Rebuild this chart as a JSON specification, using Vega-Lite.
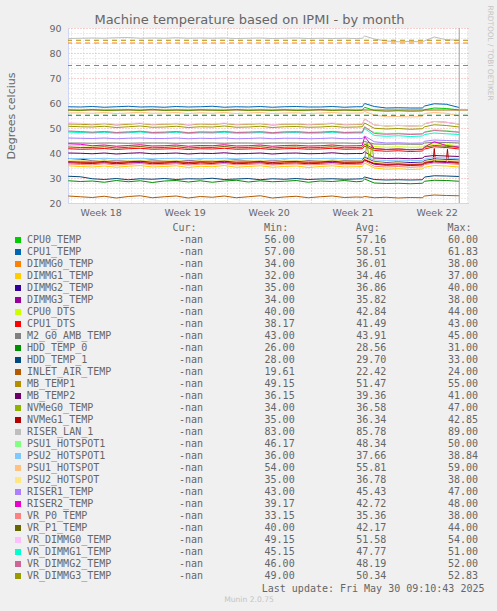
{
"$schema":"https://vega.github.io/schema/vega-lite/v6.json",
"background":"#f0f0f0",
"padding":{"left":5,"top":5,"right":5,"bottom":7},
"title":{"text":"Machine temperature based on IPMI - by month","anchor":"middle","frame":"bounds","font":"DejaVu Sans","fontSize":13,"fontWeight":"normal","color":"#666666","offset":-22},
"config":{"view":{"stroke":null},"font":"DejaVu Sans"},
"spacing":5,
"datasets":{
"legend":[
{"s":1,"name":"CPU0_TEMP","cur":"-nan","min":"56.00","avg":"57.16","max":"60.00"},
{"s":2,"name":"CPU1_TEMP","cur":"-nan","min":"57.00","avg":"58.51","max":"61.83"},
{"s":3,"name":"DIMMG0_TEMP","cur":"-nan","min":"34.00","avg":"36.01","max":"38.00"},
{"s":4,"name":"DIMMG1_TEMP","cur":"-nan","min":"32.00","avg":"34.46","max":"37.00"},
{"s":5,"name":"DIMMG2_TEMP","cur":"-nan","min":"35.00","avg":"36.86","max":"40.00"},
{"s":6,"name":"DIMMG3_TEMP","cur":"-nan","min":"34.00","avg":"35.82","max":"38.00"},
{"s":7,"name":"CPU0_DTS","cur":"-nan","min":"40.00","avg":"42.84","max":"44.00"},
{"s":8,"name":"CPU1_DTS","cur":"-nan","min":"38.17","avg":"41.49","max":"43.00"},
{"s":9,"name":"M2_G0_AMB_TEMP","cur":"-nan","min":"43.00","avg":"43.91","max":"45.00"},
{"s":10,"name":"HDD_TEMP_0","cur":"-nan","min":"26.00","avg":"28.56","max":"31.00"},
{"s":11,"name":"HDD_TEMP_1","cur":"-nan","min":"28.00","avg":"29.70","max":"33.00"},
{"s":12,"name":"INLET_AIR_TEMP","cur":"-nan","min":"19.61","avg":"22.42","max":"24.00"},
{"s":13,"name":"MB_TEMP1","cur":"-nan","min":"49.15","avg":"51.47","max":"55.00"},
{"s":14,"name":"MB_TEMP2","cur":"-nan","min":"36.15","avg":"39.36","max":"41.00"},
{"s":15,"name":"NVMeG0_TEMP","cur":"-nan","min":"34.00","avg":"36.58","max":"47.00"},
{"s":16,"name":"NVMeG1_TEMP","cur":"-nan","min":"35.00","avg":"36.34","max":"42.85"},
{"s":17,"name":"RISER_LAN_1","cur":"-nan","min":"83.00","avg":"85.78","max":"89.00"},
{"s":18,"name":"PSU1_HOTSPOT1","cur":"-nan","min":"46.17","avg":"48.34","max":"50.00"},
{"s":19,"name":"PSU2_HOTSPOT1","cur":"-nan","min":"36.00","avg":"37.66","max":"38.84"},
{"s":20,"name":"PSU1_HOTSPOT","cur":"-nan","min":"54.00","avg":"55.81","max":"59.00"},
{"s":21,"name":"PSU2_HOTSPOT","cur":"-nan","min":"35.00","avg":"36.78","max":"38.00"},
{"s":22,"name":"RISER1_TEMP","cur":"-nan","min":"43.00","avg":"45.43","max":"47.00"},
{"s":23,"name":"RISER2_TEMP","cur":"-nan","min":"39.17","avg":"42.72","max":"48.00"},
{"s":24,"name":"VR_P0_TEMP","cur":"-nan","min":"33.15","avg":"35.36","max":"38.00"},
{"s":25,"name":"VR_P1_TEMP","cur":"-nan","min":"40.00","avg":"42.17","max":"44.00"},
{"s":26,"name":"VR_DIMMG0_TEMP","cur":"-nan","min":"49.15","avg":"51.58","max":"54.00"},
{"s":27,"name":"VR_DIMMG1_TEMP","cur":"-nan","min":"45.15","avg":"47.77","max":"51.00"},
{"s":28,"name":"VR_DIMMG2_TEMP","cur":"-nan","min":"46.00","avg":"48.19","max":"52.00"},
{"s":29,"name":"VR_DIMMG3_TEMP","cur":"-nan","min":"49.00","avg":"50.34","max":"52.83"}
],
"temps":[
{"s":1,"d":0.8,"v":57.2},{"s":1,"d":1.8,"v":57},{"s":1,"d":2.8,"v":57.4},{"s":1,"d":3.8,"v":57},{"s":1,"d":4.8,"v":57.1},{"s":1,"d":5.8,"v":57.3},{"s":1,"d":6.8,"v":57},{"s":1,"d":7.8,"v":57.5},{"s":1,"d":8.8,"v":57},{"s":1,"d":9.8,"v":57.2},{"s":1,"d":10.8,"v":57},{"s":1,"d":11.8,"v":57.3},{"s":1,"d":12.8,"v":57.1},{"s":1,"d":13.8,"v":57},{"s":1,"d":14.8,"v":57.4},{"s":1,"d":15.8,"v":57},{"s":1,"d":16.8,"v":57.2},{"s":1,"d":17.8,"v":57},{"s":1,"d":18.8,"v":57.3},{"s":1,"d":19.8,"v":57},{"s":1,"d":20.8,"v":57.1},{"s":1,"d":21.8,"v":57.4},{"s":1,"d":22.8,"v":57},{"s":1,"d":23.8,"v":57.2},{"s":1,"d":24.8,"v":57},{"s":1,"d":25.3,"v":57.1},{"s":1,"d":25.5,"v":58.3},{"s":1,"d":26.3,"v":57},{"s":1,"d":27.3,"v":56.7},{"s":1,"d":28.3,"v":56.9},{"s":1,"d":29.3,"v":56.7},{"s":1,"d":30.3,"v":56.8},{"s":1,"d":30.5,"v":57.3},{"s":1,"d":31.3,"v":58},{"s":1,"d":32.3,"v":57.8},{"s":1,"d":33.38,"v":57.2},
{"s":2,"d":0.8,"v":58.5},{"s":2,"d":1.8,"v":58.4},{"s":2,"d":2.8,"v":58.6},{"s":2,"d":3.8,"v":58.3},{"s":2,"d":4.8,"v":58.5},{"s":2,"d":5.8,"v":58.7},{"s":2,"d":6.8,"v":58.4},{"s":2,"d":7.8,"v":58.5},{"s":2,"d":8.8,"v":58.3},{"s":2,"d":9.8,"v":58.6},{"s":2,"d":10.8,"v":58.4},{"s":2,"d":11.8,"v":58.5},{"s":2,"d":12.8,"v":58.7},{"s":2,"d":13.8,"v":58.3},{"s":2,"d":14.8,"v":58.5},{"s":2,"d":15.8,"v":58.4},{"s":2,"d":16.8,"v":58.6},{"s":2,"d":17.8,"v":58.3},{"s":2,"d":18.8,"v":58.5},{"s":2,"d":19.8,"v":58.6},{"s":2,"d":20.8,"v":58.4},{"s":2,"d":21.8,"v":58.4},{"s":2,"d":22.8,"v":58.6},{"s":2,"d":23.8,"v":58.3},{"s":2,"d":24.8,"v":58.5},{"s":2,"d":25.3,"v":58.5},{"s":2,"d":25.5,"v":59.8},{"s":2,"d":26.3,"v":58.6},{"s":2,"d":27.3,"v":58},{"s":2,"d":28.3,"v":58.1},{"s":2,"d":29.3,"v":58},{"s":2,"d":30.3,"v":58},{"s":2,"d":30.5,"v":58.8},{"s":2,"d":31.3,"v":59.7},{"s":2,"d":32.3,"v":59.5},{"s":2,"d":33.38,"v":58.2},
{"s":3,"d":0.8,"v":36.5},{"s":3,"d":1.8,"v":36.2},{"s":3,"d":2.8,"v":36},{"s":3,"d":3.8,"v":36.4},{"s":3,"d":4.8,"v":35.8},{"s":3,"d":5.8,"v":36.2},{"s":3,"d":6.8,"v":36.5},{"s":3,"d":7.8,"v":35.9},{"s":3,"d":8.8,"v":36.1},{"s":3,"d":9.8,"v":36.4},{"s":3,"d":10.8,"v":35.8},{"s":3,"d":11.8,"v":36.3},{"s":3,"d":12.8,"v":36},{"s":3,"d":13.8,"v":36.5},{"s":3,"d":14.8,"v":35.9},{"s":3,"d":15.8,"v":36.2},{"s":3,"d":16.8,"v":36.4},{"s":3,"d":17.8,"v":35.8},{"s":3,"d":18.8,"v":36.1},{"s":3,"d":19.8,"v":36.3},{"s":3,"d":20.8,"v":35.9},{"s":3,"d":21.8,"v":36.2},{"s":3,"d":22.8,"v":36.5},{"s":3,"d":23.8,"v":36},{"s":3,"d":24.8,"v":36.1},{"s":3,"d":25.3,"v":36.2},{"s":3,"d":25.5,"v":37.6},{"s":3,"d":26.3,"v":35.8},{"s":3,"d":27.3,"v":35.3},{"s":3,"d":28.3,"v":35.5},{"s":3,"d":29.3,"v":35.2},{"s":3,"d":30.3,"v":35.4},{"s":3,"d":30.5,"v":36},{"s":3,"d":31.3,"v":36.8},{"s":3,"d":32.3,"v":36.6},{"s":3,"d":33.38,"v":36.1},
{"s":4,"d":0.8,"v":34.9},{"s":4,"d":1.8,"v":34.6},{"s":4,"d":2.8,"v":34.4},{"s":4,"d":3.8,"v":34.8},{"s":4,"d":4.8,"v":34.3},{"s":4,"d":5.8,"v":34.7},{"s":4,"d":6.8,"v":35},{"s":4,"d":7.8,"v":34.4},{"s":4,"d":8.8,"v":34.6},{"s":4,"d":9.8,"v":34.9},{"s":4,"d":10.8,"v":34.2},{"s":4,"d":11.8,"v":34.7},{"s":4,"d":12.8,"v":34.5},{"s":4,"d":13.8,"v":35},{"s":4,"d":14.8,"v":34.3},{"s":4,"d":15.8,"v":34.6},{"s":4,"d":16.8,"v":34.9},{"s":4,"d":17.8,"v":34.3},{"s":4,"d":18.8,"v":34.6},{"s":4,"d":19.8,"v":34.8},{"s":4,"d":20.8,"v":34.2},{"s":4,"d":21.8,"v":34.6},{"s":4,"d":22.8,"v":34.9},{"s":4,"d":23.8,"v":34.4},{"s":4,"d":24.8,"v":34.5},{"s":4,"d":25.3,"v":34.6},{"s":4,"d":25.5,"v":36},{"s":4,"d":26.3,"v":34},{"s":4,"d":27.3,"v":33.5},{"s":4,"d":28.3,"v":33.7},{"s":4,"d":29.3,"v":33.4},{"s":4,"d":30.3,"v":33.6},{"s":4,"d":30.5,"v":34.3},{"s":4,"d":31.3,"v":35},{"s":4,"d":32.3,"v":34.8},{"s":4,"d":33.38,"v":34.4},
{"s":5,"d":0.8,"v":37.8},{"s":5,"d":1.8,"v":37.6},{"s":5,"d":2.8,"v":36.9},{"s":5,"d":3.8,"v":37.1},{"s":5,"d":4.8,"v":36.8},{"s":5,"d":5.8,"v":37},{"s":5,"d":6.8,"v":36.9},{"s":5,"d":7.8,"v":37.2},{"s":5,"d":8.8,"v":36.8},{"s":5,"d":9.8,"v":37},{"s":5,"d":10.8,"v":36.9},{"s":5,"d":11.8,"v":37.1},{"s":5,"d":12.8,"v":36.8},{"s":5,"d":13.8,"v":37},{"s":5,"d":14.8,"v":37.2},{"s":5,"d":15.8,"v":36.9},{"s":5,"d":16.8,"v":37},{"s":5,"d":17.8,"v":36.8},{"s":5,"d":18.8,"v":37.1},{"s":5,"d":19.8,"v":36.9},{"s":5,"d":20.8,"v":37},{"s":5,"d":21.8,"v":36.8},{"s":5,"d":22.8,"v":37.1},{"s":5,"d":23.8,"v":36.9},{"s":5,"d":24.8,"v":37},{"s":5,"d":25.3,"v":37},{"s":5,"d":25.5,"v":38.4},{"s":5,"d":26.3,"v":36.5},{"s":5,"d":27.3,"v":36.2},{"s":5,"d":28.3,"v":36.4},{"s":5,"d":29.3,"v":36.2},{"s":5,"d":30.3,"v":36.3},{"s":5,"d":30.5,"v":37},{"s":5,"d":31.3,"v":37.6},{"s":5,"d":32.3,"v":37.4},{"s":5,"d":33.38,"v":37.2},
{"s":6,"d":0.8,"v":36.1},{"s":6,"d":1.8,"v":35.9},{"s":6,"d":2.8,"v":35.8},{"s":6,"d":3.8,"v":36.1},{"s":6,"d":4.8,"v":35.7},{"s":6,"d":5.8,"v":36},{"s":6,"d":6.8,"v":36.2},{"s":6,"d":7.8,"v":35.7},{"s":6,"d":8.8,"v":35.9},{"s":6,"d":9.8,"v":36.1},{"s":6,"d":10.8,"v":35.6},{"s":6,"d":11.8,"v":36},{"s":6,"d":12.8,"v":35.8},{"s":6,"d":13.8,"v":36.2},{"s":6,"d":14.8,"v":35.7},{"s":6,"d":15.8,"v":35.9},{"s":6,"d":16.8,"v":36.1},{"s":6,"d":17.8,"v":35.6},{"s":6,"d":18.8,"v":35.9},{"s":6,"d":19.8,"v":36},{"s":6,"d":20.8,"v":35.7},{"s":6,"d":21.8,"v":35.9},{"s":6,"d":22.8,"v":36.2},{"s":6,"d":23.8,"v":35.8},{"s":6,"d":24.8,"v":35.9},{"s":6,"d":25.3,"v":36},{"s":6,"d":25.5,"v":37.1},{"s":6,"d":26.3,"v":35.5},{"s":6,"d":27.3,"v":35.1},{"s":6,"d":28.3,"v":35.3},{"s":6,"d":29.3,"v":35},{"s":6,"d":30.3,"v":35.2},{"s":6,"d":30.5,"v":35.8},{"s":6,"d":31.3,"v":36.4},{"s":6,"d":32.3,"v":36.2},{"s":6,"d":33.38,"v":35.9},
{"s":7,"d":0.8,"v":43},{"s":7,"d":1.8,"v":42.9},{"s":7,"d":2.8,"v":42.8},{"s":7,"d":3.8,"v":43.1},{"s":7,"d":4.8,"v":42.7},{"s":7,"d":5.8,"v":43},{"s":7,"d":6.8,"v":43.2},{"s":7,"d":7.8,"v":42.8},{"s":7,"d":8.8,"v":42.9},{"s":7,"d":9.8,"v":43.1},{"s":7,"d":10.8,"v":42.7},{"s":7,"d":11.8,"v":43},{"s":7,"d":12.8,"v":42.9},{"s":7,"d":13.8,"v":43.2},{"s":7,"d":14.8,"v":42.8},{"s":7,"d":15.8,"v":42.9},{"s":7,"d":16.8,"v":43.1},{"s":7,"d":17.8,"v":42.7},{"s":7,"d":18.8,"v":43},{"s":7,"d":19.8,"v":43.1},{"s":7,"d":20.8,"v":42.8},{"s":7,"d":21.8,"v":42.9},{"s":7,"d":22.8,"v":43.2},{"s":7,"d":23.8,"v":42.8},{"s":7,"d":24.8,"v":42.9},{"s":7,"d":25.3,"v":43},{"s":7,"d":25.5,"v":44},{"s":7,"d":26.3,"v":42.6},{"s":7,"d":27.3,"v":42.3},{"s":7,"d":28.3,"v":42.5},{"s":7,"d":29.3,"v":42.3},{"s":7,"d":30.3,"v":42.4},{"s":7,"d":30.5,"v":43},{"s":7,"d":31.3,"v":43.6},{"s":7,"d":32.3,"v":43.4},{"s":7,"d":33.38,"v":42.9},
{"s":8,"d":0.8,"v":41.7},{"s":8,"d":1.8,"v":41.5},{"s":8,"d":2.8,"v":41.6},{"s":8,"d":3.8,"v":41.8},{"s":8,"d":4.8,"v":41.4},{"s":8,"d":5.8,"v":41.7},{"s":8,"d":6.8,"v":41.9},{"s":8,"d":7.8,"v":41.5},{"s":8,"d":8.8,"v":41.6},{"s":8,"d":9.8,"v":41.8},{"s":8,"d":10.8,"v":41.4},{"s":8,"d":11.8,"v":41.7},{"s":8,"d":12.8,"v":41.6},{"s":8,"d":13.8,"v":41.9},{"s":8,"d":14.8,"v":41.5},{"s":8,"d":15.8,"v":41.6},{"s":8,"d":16.8,"v":41.8},{"s":8,"d":17.8,"v":41.4},{"s":8,"d":18.8,"v":41.7},{"s":8,"d":19.8,"v":41.8},{"s":8,"d":20.8,"v":41.5},{"s":8,"d":21.8,"v":41.6},{"s":8,"d":22.8,"v":41.9},{"s":8,"d":23.8,"v":41.5},{"s":8,"d":24.8,"v":41.6},{"s":8,"d":25.3,"v":41.7},{"s":8,"d":25.5,"v":42.8},{"s":8,"d":26.3,"v":41},{"s":8,"d":27.3,"v":40.7},{"s":8,"d":28.3,"v":40.9},{"s":8,"d":29.3,"v":40.6},{"s":8,"d":30.3,"v":40.8},{"s":8,"d":30.5,"v":41.6},{"s":8,"d":31.3,"v":42.5},{"s":8,"d":32.3,"v":42.2},{"s":8,"d":33.38,"v":41.6},
{"s":9,"d":0.8,"v":44},{"s":9,"d":1.8,"v":44},{"s":9,"d":2.8,"v":43.9},{"s":9,"d":3.8,"v":44},{"s":9,"d":4.8,"v":44},{"s":9,"d":5.8,"v":43.9},{"s":9,"d":6.8,"v":44},{"s":9,"d":7.8,"v":44},{"s":9,"d":8.8,"v":44},{"s":9,"d":9.8,"v":43.9},{"s":9,"d":10.8,"v":44},{"s":9,"d":11.8,"v":44},{"s":9,"d":12.8,"v":44},{"s":9,"d":13.8,"v":43.9},{"s":9,"d":14.8,"v":44},{"s":9,"d":15.8,"v":44},{"s":9,"d":16.8,"v":43.9},{"s":9,"d":17.8,"v":44},{"s":9,"d":18.8,"v":44},{"s":9,"d":19.8,"v":44},{"s":9,"d":20.8,"v":43.9},{"s":9,"d":21.8,"v":44},{"s":9,"d":22.8,"v":44},{"s":9,"d":23.8,"v":44},{"s":9,"d":24.8,"v":43.9},{"s":9,"d":25.3,"v":44},{"s":9,"d":25.5,"v":44.6},{"s":9,"d":26.3,"v":43.6},{"s":9,"d":27.3,"v":43.5},{"s":9,"d":28.3,"v":43.6},{"s":9,"d":29.3,"v":43.5},{"s":9,"d":30.3,"v":43.5},{"s":9,"d":30.5,"v":44},{"s":9,"d":31.3,"v":44.3},{"s":9,"d":32.3,"v":44.2},{"s":9,"d":33.38,"v":44},
{"s":10,"d":0.8,"v":28.9},{"s":10,"d":1.8,"v":28.6},{"s":10,"d":2.8,"v":28.8},{"s":10,"d":3.8,"v":28.3},{"s":10,"d":4.8,"v":29},{"s":10,"d":5.8,"v":28.5},{"s":10,"d":6.8,"v":28.9},{"s":10,"d":7.8,"v":28.2},{"s":10,"d":8.8,"v":28.8},{"s":10,"d":9.8,"v":29},{"s":10,"d":10.8,"v":28.4},{"s":10,"d":11.8,"v":28.9},{"s":10,"d":12.8,"v":28.3},{"s":10,"d":13.8,"v":28.8},{"s":10,"d":14.8,"v":29.1},{"s":10,"d":15.8,"v":28.4},{"s":10,"d":16.8,"v":28.9},{"s":10,"d":17.8,"v":28.5},{"s":10,"d":18.8,"v":28.7},{"s":10,"d":19.8,"v":29},{"s":10,"d":20.8,"v":28.3},{"s":10,"d":21.8,"v":28.8},{"s":10,"d":22.8,"v":28.6},{"s":10,"d":23.8,"v":29},{"s":10,"d":24.8,"v":28.5},{"s":10,"d":25.3,"v":28.7},{"s":10,"d":25.5,"v":29.6},{"s":10,"d":26.3,"v":28},{"s":10,"d":27.3,"v":27.8},{"s":10,"d":28.3,"v":27.9},{"s":10,"d":29.3,"v":27.7},{"s":10,"d":30.3,"v":27.9},{"s":10,"d":30.5,"v":28.7},{"s":10,"d":31.3,"v":29.1},{"s":10,"d":32.3,"v":29},{"s":10,"d":33.38,"v":28.7},
{"s":11,"d":0.8,"v":30.7},{"s":11,"d":1.8,"v":30.5},{"s":11,"d":2.8,"v":29.7},{"s":11,"d":3.8,"v":29.4},{"s":11,"d":4.8,"v":29.8},{"s":11,"d":5.8,"v":29.3},{"s":11,"d":6.8,"v":29.7},{"s":11,"d":7.8,"v":29.5},{"s":11,"d":8.8,"v":29.8},{"s":11,"d":9.8,"v":29.4},{"s":11,"d":10.8,"v":29.7},{"s":11,"d":11.8,"v":29.6},{"s":11,"d":12.8,"v":29.9},{"s":11,"d":13.8,"v":29.4},{"s":11,"d":14.8,"v":29.6},{"s":11,"d":15.8,"v":29.8},{"s":11,"d":16.8,"v":29.3},{"s":11,"d":17.8,"v":29.7},{"s":11,"d":18.8,"v":29.5},{"s":11,"d":19.8,"v":29.8},{"s":11,"d":20.8,"v":29.4},{"s":11,"d":21.8,"v":29.6},{"s":11,"d":22.8,"v":29.7},{"s":11,"d":23.8,"v":29.5},{"s":11,"d":24.8,"v":29.6},{"s":11,"d":25.3,"v":29.7},{"s":11,"d":25.5,"v":30.4},{"s":11,"d":26.3,"v":29.4},{"s":11,"d":27.3,"v":29.2},{"s":11,"d":28.3,"v":29.3},{"s":11,"d":29.3,"v":29.2},{"s":11,"d":30.3,"v":29.3},{"s":11,"d":30.5,"v":30.4},{"s":11,"d":31.3,"v":30.9},{"s":11,"d":32.3,"v":30.8},{"s":11,"d":33.38,"v":30.6},
{"s":12,"d":0.8,"v":22.8},{"s":12,"d":1.8,"v":22.5},{"s":12,"d":2.8,"v":22.2},{"s":12,"d":3.8,"v":22.7},{"s":12,"d":4.8,"v":22},{"s":12,"d":5.8,"v":22.6},{"s":12,"d":6.8,"v":22.9},{"s":12,"d":7.8,"v":22.1},{"s":12,"d":8.8,"v":22.5},{"s":12,"d":9.8,"v":22.8},{"s":12,"d":10.8,"v":22},{"s":12,"d":11.8,"v":22.6},{"s":12,"d":12.8,"v":22.3},{"s":12,"d":13.8,"v":22.8},{"s":12,"d":14.8,"v":22.1},{"s":12,"d":15.8,"v":22.5},{"s":12,"d":16.8,"v":22.9},{"s":12,"d":17.8,"v":22},{"s":12,"d":18.8,"v":22.4},{"s":12,"d":19.8,"v":22.7},{"s":12,"d":20.8,"v":22.1},{"s":12,"d":21.8,"v":22.5},{"s":12,"d":22.8,"v":22.8},{"s":12,"d":23.8,"v":22.2},{"s":12,"d":24.8,"v":22.4},{"s":12,"d":25.3,"v":22.3},{"s":12,"d":25.5,"v":22.6},{"s":12,"d":26.3,"v":22.1},{"s":12,"d":27.3,"v":22.3},{"s":12,"d":28.3,"v":22},{"s":12,"d":29.3,"v":22.2},{"s":12,"d":30.3,"v":22.1},{"s":12,"d":30.5,"v":22.8},{"s":12,"d":31.3,"v":23.2},{"s":12,"d":32.3,"v":23},{"s":12,"d":33.38,"v":22.9},
{"s":13,"d":0.8,"v":51.6},{"s":13,"d":1.8,"v":51.5},{"s":13,"d":2.8,"v":51.3},{"s":13,"d":3.8,"v":51.7},{"s":13,"d":4.8,"v":51.2},{"s":13,"d":5.8,"v":51.5},{"s":13,"d":6.8,"v":51.8},{"s":13,"d":7.8,"v":51.3},{"s":13,"d":8.8,"v":51.5},{"s":13,"d":9.8,"v":51.7},{"s":13,"d":10.8,"v":51.2},{"s":13,"d":11.8,"v":51.6},{"s":13,"d":12.8,"v":51.4},{"s":13,"d":13.8,"v":51.8},{"s":13,"d":14.8,"v":51.3},{"s":13,"d":15.8,"v":51.5},{"s":13,"d":16.8,"v":51.7},{"s":13,"d":17.8,"v":51.2},{"s":13,"d":18.8,"v":51.5},{"s":13,"d":19.8,"v":51.6},{"s":13,"d":20.8,"v":51.3},{"s":13,"d":21.8,"v":51.5},{"s":13,"d":22.8,"v":51.8},{"s":13,"d":23.8,"v":51.3},{"s":13,"d":24.8,"v":51.4},{"s":13,"d":25.3,"v":51.5},{"s":13,"d":25.5,"v":53.6},{"s":13,"d":26.3,"v":51.2},{"s":13,"d":27.3,"v":50.8},{"s":13,"d":28.3,"v":51},{"s":13,"d":29.3,"v":50.8},{"s":13,"d":30.3,"v":50.9},{"s":13,"d":30.5,"v":51.7},{"s":13,"d":31.3,"v":52.6},{"s":13,"d":32.3,"v":52.3},{"s":13,"d":33.38,"v":51.5},
{"s":14,"d":0.8,"v":40},{"s":14,"d":1.8,"v":39.9},{"s":14,"d":2.8,"v":39.7},{"s":14,"d":3.8,"v":40},{"s":14,"d":4.8,"v":39.6},{"s":14,"d":5.8,"v":39.9},{"s":14,"d":6.8,"v":40.1},{"s":14,"d":7.8,"v":39.7},{"s":14,"d":8.8,"v":39.8},{"s":14,"d":9.8,"v":40},{"s":14,"d":10.8,"v":39.6},{"s":14,"d":11.8,"v":39.9},{"s":14,"d":12.8,"v":39.8},{"s":14,"d":13.8,"v":40.1},{"s":14,"d":14.8,"v":39.7},{"s":14,"d":15.8,"v":39.8},{"s":14,"d":16.8,"v":40},{"s":14,"d":17.8,"v":39.6},{"s":14,"d":18.8,"v":39.9},{"s":14,"d":19.8,"v":40},{"s":14,"d":20.8,"v":39.7},{"s":14,"d":21.8,"v":39.8},{"s":14,"d":22.8,"v":40.1},{"s":14,"d":23.8,"v":39.7},{"s":14,"d":24.8,"v":39.8},{"s":14,"d":25.3,"v":39.8},{"s":14,"d":25.5,"v":40.5},{"s":14,"d":26.3,"v":38},{"s":14,"d":27.3,"v":37.8},{"s":14,"d":28.3,"v":37.9},{"s":14,"d":29.3,"v":37.7},{"s":14,"d":30.3,"v":37.9},{"s":14,"d":30.5,"v":38.6},{"s":14,"d":31.3,"v":39},{"s":14,"d":32.3,"v":38.8},{"s":14,"d":33.38,"v":38.6},
{"s":15,"d":0.8,"v":36.8},{"s":15,"d":1.8,"v":36.7},{"s":15,"d":2.8,"v":36.6},{"s":15,"d":3.8,"v":36.9},{"s":15,"d":4.8,"v":36.5},{"s":15,"d":5.8,"v":36.8},{"s":15,"d":6.8,"v":37},{"s":15,"d":7.8,"v":36.6},{"s":15,"d":8.8,"v":36.7},{"s":15,"d":9.8,"v":36.9},{"s":15,"d":10.8,"v":36.5},{"s":15,"d":11.8,"v":36.8},{"s":15,"d":12.8,"v":36.7},{"s":15,"d":13.8,"v":37},{"s":15,"d":14.8,"v":36.6},{"s":15,"d":15.8,"v":36.7},{"s":15,"d":16.8,"v":36.9},{"s":15,"d":17.8,"v":36.5},{"s":15,"d":18.8,"v":36.8},{"s":15,"d":19.8,"v":36.9},{"s":15,"d":20.8,"v":36.6},{"s":15,"d":21.8,"v":36.7},{"s":15,"d":22.8,"v":37},{"s":15,"d":23.8,"v":36.6},{"s":15,"d":24.8,"v":36.7},{"s":15,"d":25.3,"v":36.7},{"s":15,"d":25.5,"v":37.6},{"s":15,"d":25.7,"v":44},{"s":15,"d":25.9,"v":36.4},{"s":15,"d":26.1,"v":43.5},{"s":15,"d":26.3,"v":36.2},{"s":15,"d":27.3,"v":35.8},{"s":15,"d":28.3,"v":35.9},{"s":15,"d":29.3,"v":35.7},{"s":15,"d":30.3,"v":35.8},{"s":15,"d":30.5,"v":36.5},{"s":15,"d":31.3,"v":37},{"s":15,"d":32.3,"v":36.8},{"s":15,"d":33.38,"v":36.5},
{"s":16,"d":0.8,"v":36.5},{"s":16,"d":1.8,"v":36.4},{"s":16,"d":2.8,"v":36.3},{"s":16,"d":3.8,"v":36.6},{"s":16,"d":4.8,"v":36.2},{"s":16,"d":5.8,"v":36.5},{"s":16,"d":6.8,"v":36.7},{"s":16,"d":7.8,"v":36.3},{"s":16,"d":8.8,"v":36.4},{"s":16,"d":9.8,"v":36.6},{"s":16,"d":10.8,"v":36.2},{"s":16,"d":11.8,"v":36.5},{"s":16,"d":12.8,"v":36.4},{"s":16,"d":13.8,"v":36.7},{"s":16,"d":14.8,"v":36.3},{"s":16,"d":15.8,"v":36.4},{"s":16,"d":16.8,"v":36.6},{"s":16,"d":17.8,"v":36.2},{"s":16,"d":18.8,"v":36.5},{"s":16,"d":19.8,"v":36.6},{"s":16,"d":20.8,"v":36.3},{"s":16,"d":21.8,"v":36.4},{"s":16,"d":22.8,"v":36.7},{"s":16,"d":23.8,"v":36.3},{"s":16,"d":24.8,"v":36.4},{"s":16,"d":25.3,"v":36.4},{"s":16,"d":25.5,"v":37.3},{"s":16,"d":26.3,"v":35.8},{"s":16,"d":27.3,"v":35.5},{"s":16,"d":28.3,"v":35.7},{"s":16,"d":29.3,"v":35.5},{"s":16,"d":30.3,"v":35.6},{"s":16,"d":30.5,"v":36.3},{"s":16,"d":31.2,"v":36.6},{"s":16,"d":31.3,"v":41.8},{"s":16,"d":31.4,"v":36.5},{"s":16,"d":32.3,"v":36.6},{"s":16,"d":32.4,"v":41.5},{"s":16,"d":32.5,"v":36.5},{"s":16,"d":33.38,"v":36.3},
{"s":17,"d":0.8,"v":85.8},{"s":17,"d":1.8,"v":85.9},{"s":17,"d":2.8,"v":86},{"s":17,"d":3.8,"v":85.9},{"s":17,"d":4.8,"v":86.1},{"s":17,"d":5.8,"v":86.2},{"s":17,"d":6.8,"v":85.9},{"s":17,"d":7.8,"v":86},{"s":17,"d":8.8,"v":85.9},{"s":17,"d":9.8,"v":86.1},{"s":17,"d":10.8,"v":85.9},{"s":17,"d":11.8,"v":86},{"s":17,"d":12.8,"v":85.9},{"s":17,"d":13.8,"v":86},{"s":17,"d":14.8,"v":85.8},{"s":17,"d":15.8,"v":85.9},{"s":17,"d":16.8,"v":86},{"s":17,"d":17.8,"v":85.8},{"s":17,"d":18.8,"v":85.9},{"s":17,"d":19.8,"v":86},{"s":17,"d":20.8,"v":85.8},{"s":17,"d":21.8,"v":85.9},{"s":17,"d":22.8,"v":85.8},{"s":17,"d":23.8,"v":85.9},{"s":17,"d":24.8,"v":85.8},{"s":17,"d":25.3,"v":85.9},{"s":17,"d":25.5,"v":86.8},{"s":17,"d":26.3,"v":85.6},{"s":17,"d":27.3,"v":84.8},{"s":17,"d":28.3,"v":84.5},{"s":17,"d":29.3,"v":84.6},{"s":17,"d":30.3,"v":84.5},{"s":17,"d":30.5,"v":84.9},{"s":17,"d":31.3,"v":86.4},{"s":17,"d":32.3,"v":85.3},{"s":17,"d":33.38,"v":85.1},
{"s":18,"d":0.8,"v":48.5},{"s":18,"d":1.8,"v":48.4},{"s":18,"d":2.8,"v":48.3},{"s":18,"d":3.8,"v":48.6},{"s":18,"d":4.8,"v":48.2},{"s":18,"d":5.8,"v":48.5},{"s":18,"d":6.8,"v":48.7},{"s":18,"d":7.8,"v":48.3},{"s":18,"d":8.8,"v":48.4},{"s":18,"d":9.8,"v":48.6},{"s":18,"d":10.8,"v":48.2},{"s":18,"d":11.8,"v":48.5},{"s":18,"d":12.8,"v":48.4},{"s":18,"d":13.8,"v":48.7},{"s":18,"d":14.8,"v":48.3},{"s":18,"d":15.8,"v":48.4},{"s":18,"d":16.8,"v":48.6},{"s":18,"d":17.8,"v":48.2},{"s":18,"d":18.8,"v":48.5},{"s":18,"d":19.8,"v":48.6},{"s":18,"d":20.8,"v":48.3},{"s":18,"d":21.8,"v":48.4},{"s":18,"d":22.8,"v":48.7},{"s":18,"d":23.8,"v":48.3},{"s":18,"d":24.8,"v":48.4},{"s":18,"d":25.3,"v":48.4},{"s":18,"d":25.5,"v":50},{"s":18,"d":26.3,"v":48.3},{"s":18,"d":27.3,"v":47.8},{"s":18,"d":28.3,"v":47.9},{"s":18,"d":29.3,"v":47.7},{"s":18,"d":30.3,"v":47.8},{"s":18,"d":30.5,"v":48.5},{"s":18,"d":31.3,"v":49.3},{"s":18,"d":32.3,"v":49},{"s":18,"d":33.38,"v":48.4},
{"s":19,"d":0.8,"v":37.8},{"s":19,"d":1.8,"v":37.8},{"s":19,"d":2.8,"v":37.7},{"s":19,"d":3.8,"v":37.9},{"s":19,"d":4.8,"v":37.6},{"s":19,"d":5.8,"v":37.8},{"s":19,"d":6.8,"v":37.9},{"s":19,"d":7.8,"v":37.7},{"s":19,"d":8.8,"v":37.8},{"s":19,"d":9.8,"v":37.9},{"s":19,"d":10.8,"v":37.6},{"s":19,"d":11.8,"v":37.8},{"s":19,"d":12.8,"v":37.7},{"s":19,"d":13.8,"v":37.9},{"s":19,"d":14.8,"v":37.7},{"s":19,"d":15.8,"v":37.8},{"s":19,"d":16.8,"v":37.9},{"s":19,"d":17.8,"v":37.6},{"s":19,"d":18.8,"v":37.8},{"s":19,"d":19.8,"v":37.9},{"s":19,"d":20.8,"v":37.7},{"s":19,"d":21.8,"v":37.8},{"s":19,"d":22.8,"v":37.9},{"s":19,"d":23.8,"v":37.7},{"s":19,"d":24.8,"v":37.8},{"s":19,"d":25.3,"v":37.8},{"s":19,"d":25.5,"v":38.6},{"s":19,"d":26.3,"v":37.2},{"s":19,"d":27.3,"v":37},{"s":19,"d":28.3,"v":37.1},{"s":19,"d":29.3,"v":37},{"s":19,"d":30.3,"v":37},{"s":19,"d":30.5,"v":37.6},{"s":19,"d":31.3,"v":38.2},{"s":19,"d":32.3,"v":38},{"s":19,"d":33.38,"v":37.7},
{"s":20,"d":0.8,"v":56},{"s":20,"d":1.8,"v":56.1},{"s":20,"d":2.8,"v":55.9},{"s":20,"d":3.8,"v":56.2},{"s":20,"d":4.8,"v":55.8},{"s":20,"d":5.8,"v":56},{"s":20,"d":6.8,"v":56.3},{"s":20,"d":7.8,"v":55.9},{"s":20,"d":8.8,"v":56},{"s":20,"d":9.8,"v":56.2},{"s":20,"d":10.8,"v":55.8},{"s":20,"d":11.8,"v":56.1},{"s":20,"d":12.8,"v":55.9},{"s":20,"d":13.8,"v":56.2},{"s":20,"d":14.8,"v":55.8},{"s":20,"d":15.8,"v":56},{"s":20,"d":16.8,"v":56.2},{"s":20,"d":17.8,"v":55.8},{"s":20,"d":18.8,"v":56},{"s":20,"d":19.8,"v":56.1},{"s":20,"d":20.8,"v":55.8},{"s":20,"d":21.8,"v":56},{"s":20,"d":22.8,"v":56.2},{"s":20,"d":23.8,"v":55.9},{"s":20,"d":24.8,"v":56},{"s":20,"d":25.3,"v":56},{"s":20,"d":25.5,"v":56.6},{"s":20,"d":26.3,"v":55.2},{"s":20,"d":27.3,"v":54.5},{"s":20,"d":28.3,"v":54.6},{"s":20,"d":29.3,"v":54.4},{"s":20,"d":30.3,"v":54.6},{"s":20,"d":30.5,"v":55.8},{"s":20,"d":31.3,"v":56.2},{"s":20,"d":32.3,"v":55.9},{"s":20,"d":33.38,"v":54.8},
{"s":21,"d":0.8,"v":37},{"s":21,"d":1.8,"v":36.9},{"s":21,"d":2.8,"v":36.8},{"s":21,"d":3.8,"v":37.1},{"s":21,"d":4.8,"v":36.7},{"s":21,"d":5.8,"v":37},{"s":21,"d":6.8,"v":37.2},{"s":21,"d":7.8,"v":36.8},{"s":21,"d":8.8,"v":36.9},{"s":21,"d":9.8,"v":37.1},{"s":21,"d":10.8,"v":36.7},{"s":21,"d":11.8,"v":37},{"s":21,"d":12.8,"v":36.9},{"s":21,"d":13.8,"v":37.2},{"s":21,"d":14.8,"v":36.8},{"s":21,"d":15.8,"v":36.9},{"s":21,"d":16.8,"v":37.1},{"s":21,"d":17.8,"v":36.7},{"s":21,"d":18.8,"v":37},{"s":21,"d":19.8,"v":37.1},{"s":21,"d":20.8,"v":36.8},{"s":21,"d":21.8,"v":36.9},{"s":21,"d":22.8,"v":37.2},{"s":21,"d":23.8,"v":36.8},{"s":21,"d":24.8,"v":36.9},{"s":21,"d":25.3,"v":36.9},{"s":21,"d":25.5,"v":37.8},{"s":21,"d":26.3,"v":36.3},{"s":21,"d":27.3,"v":35.9},{"s":21,"d":28.3,"v":36.1},{"s":21,"d":29.3,"v":35.8},{"s":21,"d":30.3,"v":36},{"s":21,"d":30.5,"v":36.7},{"s":21,"d":31.3,"v":37.3},{"s":21,"d":32.3,"v":37.1},{"s":21,"d":33.38,"v":36.8},
{"s":22,"d":0.8,"v":46},{"s":22,"d":1.8,"v":45.9},{"s":22,"d":2.8,"v":45.8},{"s":22,"d":3.8,"v":46},{"s":22,"d":4.8,"v":45.7},{"s":22,"d":5.8,"v":45.9},{"s":22,"d":6.8,"v":46},{"s":22,"d":7.8,"v":45.8},{"s":22,"d":8.8,"v":45.8},{"s":22,"d":9.8,"v":46},{"s":22,"d":10.8,"v":45.7},{"s":22,"d":11.8,"v":45.9},{"s":22,"d":12.8,"v":45.8},{"s":22,"d":13.8,"v":46},{"s":22,"d":14.8,"v":45.7},{"s":22,"d":15.8,"v":45.8},{"s":22,"d":16.8,"v":46},{"s":22,"d":17.8,"v":45.7},{"s":22,"d":18.8,"v":45.9},{"s":22,"d":19.8,"v":45.9},{"s":22,"d":20.8,"v":45.7},{"s":22,"d":21.8,"v":45.8},{"s":22,"d":22.8,"v":46},{"s":22,"d":23.8,"v":45.7},{"s":22,"d":24.8,"v":45.8},{"s":22,"d":25.3,"v":45.8},{"s":22,"d":25.5,"v":46.8},{"s":22,"d":26.3,"v":44.5},{"s":22,"d":27.3,"v":44},{"s":22,"d":28.3,"v":44.1},{"s":22,"d":29.3,"v":43.9},{"s":22,"d":30.3,"v":44},{"s":22,"d":30.5,"v":44.7},{"s":22,"d":31.3,"v":45.2},{"s":22,"d":32.3,"v":45},{"s":22,"d":33.38,"v":44.8},
{"s":23,"d":0.8,"v":43.7},{"s":23,"d":1.8,"v":43.5},{"s":23,"d":2.8,"v":42.9},{"s":23,"d":3.8,"v":43.2},{"s":23,"d":4.8,"v":42.7},{"s":23,"d":5.8,"v":43},{"s":23,"d":6.8,"v":43.3},{"s":23,"d":7.8,"v":42.8},{"s":23,"d":8.8,"v":42.9},{"s":23,"d":9.8,"v":43.2},{"s":23,"d":10.8,"v":42.7},{"s":23,"d":11.8,"v":43},{"s":23,"d":12.8,"v":42.9},{"s":23,"d":13.8,"v":43.3},{"s":23,"d":14.8,"v":42.8},{"s":23,"d":15.8,"v":42.9},{"s":23,"d":16.8,"v":43.2},{"s":23,"d":17.8,"v":42.7},{"s":23,"d":18.8,"v":43},{"s":23,"d":19.8,"v":43.1},{"s":23,"d":20.8,"v":42.8},{"s":23,"d":21.8,"v":42.9},{"s":23,"d":22.8,"v":43.2},{"s":23,"d":23.8,"v":42.8},{"s":23,"d":24.8,"v":42.9},{"s":23,"d":25.3,"v":43},{"s":23,"d":25.5,"v":46.5},{"s":23,"d":26.3,"v":41.8},{"s":23,"d":27.3,"v":41.4},{"s":23,"d":28.3,"v":41.6},{"s":23,"d":29.3,"v":41.3},{"s":23,"d":30.3,"v":41.5},{"s":23,"d":30.5,"v":42.4},{"s":23,"d":31.3,"v":44.5},{"s":23,"d":32.3,"v":43},{"s":23,"d":33.38,"v":42.4},
{"s":24,"d":0.8,"v":35.6},{"s":24,"d":1.8,"v":35.4},{"s":24,"d":2.8,"v":35.3},{"s":24,"d":3.8,"v":35.7},{"s":24,"d":4.8,"v":35.2},{"s":24,"d":5.8,"v":35.5},{"s":24,"d":6.8,"v":35.8},{"s":24,"d":7.8,"v":35.3},{"s":24,"d":8.8,"v":35.4},{"s":24,"d":9.8,"v":35.7},{"s":24,"d":10.8,"v":35.2},{"s":24,"d":11.8,"v":35.5},{"s":24,"d":12.8,"v":35.4},{"s":24,"d":13.8,"v":35.8},{"s":24,"d":14.8,"v":35.3},{"s":24,"d":15.8,"v":35.4},{"s":24,"d":16.8,"v":35.7},{"s":24,"d":17.8,"v":35.2},{"s":24,"d":18.8,"v":35.5},{"s":24,"d":19.8,"v":35.6},{"s":24,"d":20.8,"v":35.3},{"s":24,"d":21.8,"v":35.4},{"s":24,"d":22.8,"v":35.7},{"s":24,"d":23.8,"v":35.3},{"s":24,"d":24.8,"v":35.4},{"s":24,"d":25.3,"v":35.5},{"s":24,"d":25.5,"v":36.8},{"s":24,"d":26.3,"v":34.7},{"s":24,"d":27.3,"v":34.4},{"s":24,"d":28.3,"v":34.6},{"s":24,"d":29.3,"v":34.3},{"s":24,"d":30.3,"v":34.5},{"s":24,"d":30.5,"v":35.4},{"s":24,"d":31.3,"v":36},{"s":24,"d":32.3,"v":35.8},{"s":24,"d":33.38,"v":35.4},
{"s":25,"d":0.8,"v":42.4},{"s":25,"d":1.8,"v":42.2},{"s":25,"d":2.8,"v":42.2},{"s":25,"d":3.8,"v":42.5},{"s":25,"d":4.8,"v":42},{"s":25,"d":5.8,"v":42.3},{"s":25,"d":6.8,"v":42.6},{"s":25,"d":7.8,"v":42.1},{"s":25,"d":8.8,"v":42.2},{"s":25,"d":9.8,"v":42.5},{"s":25,"d":10.8,"v":42},{"s":25,"d":11.8,"v":42.3},{"s":25,"d":12.8,"v":42.2},{"s":25,"d":13.8,"v":42.6},{"s":25,"d":14.8,"v":42.1},{"s":25,"d":15.8,"v":42.2},{"s":25,"d":16.8,"v":42.5},{"s":25,"d":17.8,"v":42},{"s":25,"d":18.8,"v":42.3},{"s":25,"d":19.8,"v":42.4},{"s":25,"d":20.8,"v":42.1},{"s":25,"d":21.8,"v":42.2},{"s":25,"d":22.8,"v":42.5},{"s":25,"d":23.8,"v":42.1},{"s":25,"d":24.8,"v":42.2},{"s":25,"d":25.3,"v":42.3},{"s":25,"d":25.5,"v":43.5},{"s":25,"d":26.3,"v":41.7},{"s":25,"d":27.3,"v":41.4},{"s":25,"d":28.3,"v":41.6},{"s":25,"d":29.3,"v":41.3},{"s":25,"d":30.3,"v":41.5},{"s":25,"d":30.5,"v":42.3},{"s":25,"d":31.3,"v":43},{"s":25,"d":32.3,"v":42.7},{"s":25,"d":33.38,"v":42.2},
{"s":26,"d":0.8,"v":52.1},{"s":26,"d":1.8,"v":51.9},{"s":26,"d":2.8,"v":51.6},{"s":26,"d":3.8,"v":51.9},{"s":26,"d":4.8,"v":51.5},{"s":26,"d":5.8,"v":51.8},{"s":26,"d":6.8,"v":52},{"s":26,"d":7.8,"v":51.5},{"s":26,"d":8.8,"v":51.7},{"s":26,"d":9.8,"v":51.9},{"s":26,"d":10.8,"v":51.4},{"s":26,"d":11.8,"v":51.8},{"s":26,"d":12.8,"v":51.6},{"s":26,"d":13.8,"v":52},{"s":26,"d":14.8,"v":51.5},{"s":26,"d":15.8,"v":51.7},{"s":26,"d":16.8,"v":51.9},{"s":26,"d":17.8,"v":51.4},{"s":26,"d":18.8,"v":51.7},{"s":26,"d":19.8,"v":51.8},{"s":26,"d":20.8,"v":51.5},{"s":26,"d":21.8,"v":51.7},{"s":26,"d":22.8,"v":52},{"s":26,"d":23.8,"v":51.5},{"s":26,"d":24.8,"v":51.6},{"s":26,"d":25.3,"v":51.7},{"s":26,"d":25.5,"v":53.5},{"s":26,"d":26.3,"v":51.2},{"s":26,"d":27.3,"v":50.9},{"s":26,"d":28.3,"v":51.1},{"s":26,"d":29.3,"v":50.8},{"s":26,"d":30.3,"v":51},{"s":26,"d":30.5,"v":51.8},{"s":26,"d":31.3,"v":52.6},{"s":26,"d":32.3,"v":52.3},{"s":26,"d":33.38,"v":51.7},
{"s":27,"d":0.8,"v":48.4},{"s":27,"d":1.8,"v":48.2},{"s":27,"d":2.8,"v":48},{"s":27,"d":3.8,"v":48.3},{"s":27,"d":4.8,"v":47.9},{"s":27,"d":5.8,"v":48.1},{"s":27,"d":6.8,"v":48.4},{"s":27,"d":7.8,"v":47.9},{"s":27,"d":8.8,"v":48},{"s":27,"d":9.8,"v":48.3},{"s":27,"d":10.8,"v":47.8},{"s":27,"d":11.8,"v":48.1},{"s":27,"d":12.8,"v":48},{"s":27,"d":13.8,"v":48.3},{"s":27,"d":14.8,"v":47.9},{"s":27,"d":15.8,"v":48},{"s":27,"d":16.8,"v":48.2},{"s":27,"d":17.8,"v":47.8},{"s":27,"d":18.8,"v":48.1},{"s":27,"d":19.8,"v":48.2},{"s":27,"d":20.8,"v":47.9},{"s":27,"d":21.8,"v":48},{"s":27,"d":22.8,"v":48.3},{"s":27,"d":23.8,"v":47.9},{"s":27,"d":24.8,"v":48},{"s":27,"d":25.3,"v":48},{"s":27,"d":25.5,"v":49.8},{"s":27,"d":26.3,"v":47},{"s":27,"d":27.3,"v":46.7},{"s":27,"d":28.3,"v":46.9},{"s":27,"d":29.3,"v":46.6},{"s":27,"d":30.3,"v":46.8},{"s":27,"d":30.5,"v":47.4},{"s":27,"d":31.3,"v":48},{"s":27,"d":32.3,"v":47.7},{"s":27,"d":33.38,"v":47.4},
{"s":28,"d":0.8,"v":48.8},{"s":28,"d":1.8,"v":48.6},{"s":28,"d":2.8,"v":48.3},{"s":28,"d":3.8,"v":48.6},{"s":28,"d":4.8,"v":48.2},{"s":28,"d":5.8,"v":48.4},{"s":28,"d":6.8,"v":48.7},{"s":28,"d":7.8,"v":48.2},{"s":28,"d":8.8,"v":48.3},{"s":28,"d":9.8,"v":48.6},{"s":28,"d":10.8,"v":48.1},{"s":28,"d":11.8,"v":48.4},{"s":28,"d":12.8,"v":48.3},{"s":28,"d":13.8,"v":48.6},{"s":28,"d":14.8,"v":48.2},{"s":28,"d":15.8,"v":48.3},{"s":28,"d":16.8,"v":48.5},{"s":28,"d":17.8,"v":48.1},{"s":28,"d":18.8,"v":48.4},{"s":28,"d":19.8,"v":48.5},{"s":28,"d":20.8,"v":48.2},{"s":28,"d":21.8,"v":48.3},{"s":28,"d":22.8,"v":48.6},{"s":28,"d":23.8,"v":48.2},{"s":28,"d":24.8,"v":48.3},{"s":28,"d":25.3,"v":48.3},{"s":28,"d":25.5,"v":50.5},{"s":28,"d":26.3,"v":47.8},{"s":28,"d":27.3,"v":47.5},{"s":28,"d":28.3,"v":47.7},{"s":28,"d":29.3,"v":47.4},{"s":28,"d":30.3,"v":47.6},{"s":28,"d":30.5,"v":48.3},{"s":28,"d":31.3,"v":49},{"s":28,"d":32.3,"v":48.7},{"s":28,"d":33.38,"v":48.3},
{"s":29,"d":0.8,"v":50.7},{"s":29,"d":1.8,"v":50.5},{"s":29,"d":2.8,"v":50.4},{"s":29,"d":3.8,"v":50.7},{"s":29,"d":4.8,"v":50.2},{"s":29,"d":5.8,"v":50.5},{"s":29,"d":6.8,"v":50.8},{"s":29,"d":7.8,"v":50.3},{"s":29,"d":8.8,"v":50.4},{"s":29,"d":9.8,"v":50.7},{"s":29,"d":10.8,"v":50.2},{"s":29,"d":11.8,"v":50.5},{"s":29,"d":12.8,"v":50.4},{"s":29,"d":13.8,"v":50.8},{"s":29,"d":14.8,"v":50.3},{"s":29,"d":15.8,"v":50.4},{"s":29,"d":16.8,"v":50.7},{"s":29,"d":17.8,"v":50.2},{"s":29,"d":18.8,"v":50.5},{"s":29,"d":19.8,"v":50.6},{"s":29,"d":20.8,"v":50.3},{"s":29,"d":21.8,"v":50.4},{"s":29,"d":22.8,"v":50.7},{"s":29,"d":23.8,"v":50.3},{"s":29,"d":24.8,"v":50.4},{"s":29,"d":25.3,"v":50.5},{"s":29,"d":25.5,"v":52},{"s":29,"d":26.3,"v":49.9},{"s":29,"d":27.3,"v":49.6},{"s":29,"d":28.3,"v":49.8},{"s":29,"d":29.3,"v":49.5},{"s":29,"d":30.3,"v":49.7},{"s":29,"d":30.5,"v":50.5},{"s":29,"d":31.3,"v":51.3},{"s":29,"d":32.3,"v":51},{"s":29,"d":33.38,"v":50.4}
]
},
"vconcat":[
{
"width":400,"height":175,
"view":{"fill":"#ffffff","stroke":null},
"resolve":{"axis":{"x":"independent","y":"independent"}},
"layer":[
{
"data":{"name":"temps"},
"mark":{"type":"line","strokeWidth":1,"interpolate":"linear"},
"encoding":{
"x":{"field":"d","type":"quantitative","scale":{"domain":[0.7778,34.1111],"nice":false,"zero":false},
"axis":{"orient":"bottom","values":[1,2,3,4,5,6,7,8,9,10,11,12,13,14,15,16,17,18,19,20,21,22,23,24,25,26,27,28,29,30,31,32,33,34],"grid":true,"gridColor":{"condition":{"test":"datum.value % 7 === 0","value":"#f2a0a0"},"value":"#d6d6d6"},"gridDash":[1,2],"gridWidth":1,"labels":false,"ticks":false,"domain":false,"title":null}},
"y":{"field":"v","type":"quantitative","scale":{"domain":[20,90],"nice":false,"zero":false},
"axis":{"orient":"left","values":[20,22,24,26,28,30,32,34,36,38,40,42,44,46,48,50,52,54,56,58,60,62,64,66,68,70,72,74,76,78,80,82,84,86,88,90],"grid":true,"gridColor":{"condition":{"test":"datum.value % 10 === 0","value":"#f2a0a0"},"value":"#d6d6d6"},"gridDash":[1,2],"gridWidth":1,"labelExpr":"datum.value % 10 === 0 ? datum.label : ''","labelOverlap":false,"labelFlush":false,"labelPadding":7,"labelFontSize":9.5,"labelColor":"#666666","labelFont":"DejaVu Sans","ticks":false,"domain":true,"domainColor":"#cfd6f8","title":"Degrees celcius","titleFont":"DejaVu Sans","titleFontSize":11,"titleFontWeight":"normal","titleColor":"#666666","titlePadding":32}},
"color":{"field":"s","type":"nominal","scale":{"domain":[1,2,3,4,5,6,7,8,9,10,11,12,13,14,15,16,17,18,19,20,21,22,23,24,25,26,27,28,29],"range":["#00CC00","#0066B3","#FF8000","#FFCC00","#330099","#990099","#CCFF00","#FF0000","#808080","#008F00","#00487D","#B35A00","#B38F00","#6B006B","#8FB300","#B30000","#BEBEBE","#80FF80","#80C9FF","#FFC080","#FFE680","#AA80FF","#EE00CC","#FF8080","#666600","#FFBFFF","#00FFCC","#CC6699","#999900"]},"legend":null}
}
},
{
"data":{"values":[{"s":12,"v":57.2}]},
"mark":{"type":"rule","strokeWidth":1},
"encoding":{
"y":{"field":"v","type":"quantitative","axis":null},
"color":{"field":"s","type":"nominal","legend":null}
}
},
{
"data":{"values":[{"s":13,"v":85.1},{"s":3,"v":84},{"s":29,"v":75},{"s":10,"v":55.1}]},
"mark":{"type":"rule","strokeWidth":1,"strokeDash":[5,4]},
"encoding":{
"y":{"field":"v","type":"quantitative","axis":{"orient":"right","labels":false,"ticks":false,"domain":false,"grid":false,"title":"RRDTOOL / TOBI OETIKER","titleAngle":90,"titleAlign":"left","titleBaseline":"middle","titleX":21,"titleY":-23,"titleFont":"DejaVu Sans","titleFontSize":7.4,"titleFontWeight":"normal","titleColor":"#c4c4c4"}},
"color":{"field":"s","type":"nominal","legend":null}
}
},
{
"data":{"values":[{"d":33.38}]},
"mark":{"type":"rule","color":"#a0a0a0","strokeWidth":1},
"encoding":{
"x":{"field":"d","type":"quantitative","axis":{"orient":"bottom","values":[3.5,10.5,17.5,24.5,31.5],"labelExpr":"'Week ' + (floor(datum.value / 7) + 18)","grid":false,"ticks":false,"domain":true,"domainColor":"#cfd6f8","labelPadding":4,"labelFont":"DejaVu Sans","labelFontSize":9.5,"labelColor":"#666666","labelFlush":false,"labelOverlap":false,"title":null}}
}
}
]
},
{
"width":416,"height":348,
"view":{"stroke":null},
"title":{"text":"Munin 2.0.75","orient":"bottom","anchor":"middle","font":"DejaVu Sans","fontSize":7.6,"fontWeight":"normal","color":"#c4c4c4","offset":3,"dx":-27},
"data":{"name":"legend"},
"resolve":{"scale":{"x":"independent"},"axis":{"x":"independent"}},
"layer":[
{
"mark":{"type":"square","size":36,"filled":true,"opacity":1},
"encoding":{
"x":{"datum":"sw","type":"nominal","scale":{"type":"point","domain":["sw","name"],"range":[-50,-41],"padding":0},
"axis":{"orient":"bottom","labels":false,"ticks":false,"domain":false,"grid":false,"minExtent":0,"maxExtent":0,"title":"Last update: Fri May 30 09:10:43 2025","titleX":416,"titleAlign":"right","titleFont":"DejaVu Sans Mono","titleFontSize":10,"titleFontWeight":"normal","titleColor":"#666666","titlePadding":1}},
"y":{"field":"s","type":"ordinal","scale":{"type":"band","paddingInner":0,"paddingOuter":0},"axis":null},
"color":{"field":"s","type":"nominal","scale":{"domain":[1,2,3,4,5,6,7,8,9,10,11,12,13,14,15,16,17,18,19,20,21,22,23,24,25,26,27,28,29],"range":["#00CC00","#0066B3","#FF8000","#FFCC00","#330099","#990099","#CCFF00","#FF0000","#808080","#008F00","#00487D","#B35A00","#B38F00","#6B006B","#8FB300","#B30000","#BEBEBE","#80FF80","#80C9FF","#FFC080","#FFE680","#AA80FF","#EE00CC","#FF8080","#666600","#FFBFFF","#00FFCC","#CC6699","#999900"]},"legend":null}
}
},
{
"mark":{"type":"text","align":"left","baseline":"middle","font":"DejaVu Sans Mono","fontSize":10,"color":"#666666"},
"encoding":{
"x":{"datum":"name","type":"nominal","scale":{"type":"point","domain":["sw","name"],"range":[-50,-41],"padding":0},"axis":null},
"y":{"field":"s","type":"ordinal","scale":{"type":"band","paddingInner":0,"paddingOuter":0},"axis":null},
"text":{"field":"name"}
}
},
{
"transform":[{"fold":["cur","min","avg","max"],"as":["key","val"]}],
"mark":{"type":"text","align":"right","baseline":"middle","font":"DejaVu Sans Mono","fontSize":10,"color":"#666666"},
"encoding":{
"x":{"field":"key","type":"nominal","scale":{"type":"point","domain":["cur","min","avg","max"],"range":[135,410],"padding":0},
"axis":{"orient":"top","labelExpr":"datum.value === 'cur' ? 'Cur:' : datum.value === 'min' ? 'Min:' : datum.value === 'avg' ? 'Avg:' : 'Max:'","labelAlign":"right","labelBaseline":"middle","labelOffset":-7,"labelPadding":6.6,"labelFont":"DejaVu Sans Mono","labelFontSize":10,"labelColor":"#666666","labelAngle":0,"ticks":false,"domain":false,"grid":false,"title":null}},
"y":{"field":"s","type":"ordinal","scale":{"type":"band","paddingInner":0,"paddingOuter":0},"axis":null},
"text":{"field":"val"}
}
}
]
}
]
}
